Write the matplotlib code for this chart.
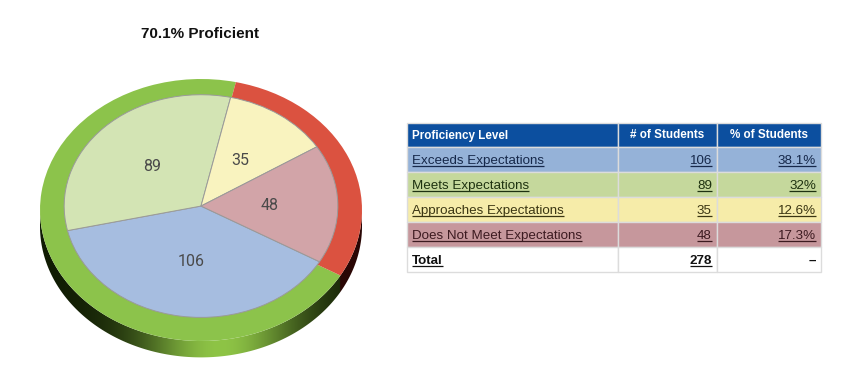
import numpy as np
import matplotlib
matplotlib.use("Agg")
import matplotlib.pyplot as plt
from matplotlib.patches import Rectangle, Polygon
from matplotlib.colors import to_rgb

# ---------------- data ----------------
title = "70.1% Proficient"
levels = ["Exceeds Expectations", "Meets Expectations",
          "Approaches Expectations", "Does Not Meet Expectations"]
counts = [106, 89, 35, 48]
pct_text = ["38.1%", "32%", "12.6%", "17.3%"]
total_label = "Total"
total_count = "278"
total_pct = "–"
headers = ["Proficiency Level", "# of Students", "% of Students"]
ring_values = [counts[0] + counts[1], counts[2] + counts[3]]  # proficient / not proficient

# ---------------- style ----------------
pie_colors = ["#A6BDE0", "#D3E4B4", "#F9F3BF", "#D2A4A8"]
ring_colors = ["#8CC34B", "#DB5240"]
row_colors = ["#95B2D8", "#C5D89C", "#F6ECA9", "#C6979C"]
row_text_colors = ["#16284A", "#1E3210", "#3A3512", "#3C1A20"]
header_color = "#0C4F9F"

plt.rcParams['font.family'] = ['Liberation Sans', 'DejaVu Sans']

W, H = 850, 378
fig = plt.figure(figsize=(W / 100, H / 100), dpi=100)
fig.patch.set_facecolor("white")

# ---------------- pie (drawn as ellipse) ----------------
cx, cy, rx, ry = 201, 210, 161, 131
depth = 0.125
ax = fig.add_axes([(cx - rx) / W, (H - (cy + ry * 1.2)) / H, 2 * rx / W, 2.2 * ry / H])

# side of the disc with a shaded gradient
t = np.linspace(np.pi, 2 * np.pi, 300)
top = np.column_stack([np.cos(t), np.sin(t)])
bot = np.column_stack([np.cos(t[::-1]), np.sin(t[::-1]) - depth])
side = Polygon(np.vstack([top, bot]), closed=True, facecolor="none", edgecolor="none")
ax.add_patch(side)
xs = np.linspace(-1, 1, 500)
dark = np.array(to_rgb("#0f1a03"))
bright = np.array(to_rgb("#8EC446"))
b = np.exp(-((xs - 0.12) / 0.5) ** 2)
img = dark[None, :] + (bright - dark)[None, :] * b[:, None]
red_side = xs > np.cos(np.deg2rad(-30))
img[red_side] = np.array(to_rgb("#2a0604"))
im = ax.imshow(img[None, :, :], extent=(-1, 1, -1 - depth - 0.02, 0.02),
               aspect='auto', zorder=0, interpolation='bilinear')
im.set_clip_path(side)

ax.pie(ring_values, colors=ring_colors, startangle=-30, counterclock=False,
       radius=1.0, wedgeprops=dict(linewidth=0))
total = sum(counts)
ax.pie(counts, colors=pie_colors, startangle=-30, counterclock=False,
       radius=0.85, center=(0, 0.03),
       wedgeprops=dict(edgecolor="#9a9a9a", linewidth=0.7),
       autopct=lambda p: f"{int(round(p * total / 100))}", pctdistance=0.5,
       textprops=dict(fontsize=11.5, color="#4a4a4a", family=['Roboto', 'DejaVu Sans']))
ax.set_aspect('auto')
ax.set_xlim(-1, 1)
ax.set_ylim(-1.2, 1)
ax.axis('off')

# ---------------- overlay for table & title ----------------
axT = fig.add_axes([0, 0, 1, 1])
axT.set_xlim(0, W)
axT.set_ylim(H, 0)
axT.axis('off')

axT.text(200, 38, title, ha='center', va='baseline', fontsize=11, fontweight='bold', color="#111111")

col_edges = [407, 618, 717, 821]
row_edges = [123, 147, 172, 197, 222, 247, 272]
fills = [header_color] + row_colors + ["white"]
for i, fc in enumerate(fills):
    y0, y1 = row_edges[i], row_edges[i + 1]
    for j in range(3):
        axT.add_patch(Rectangle((col_edges[j], y0), col_edges[j + 1] - col_edges[j], y1 - y0,
                                facecolor=fc, edgecolor="#dcdcdc", linewidth=1.0))

# header
hy = (row_edges[0] + row_edges[1]) / 2 + 3.5
hfs = 8.4
axT.text(col_edges[0] + 5, hy, headers[0], ha='left', va='baseline', fontsize=hfs,
         fontweight='bold', color='white')
axT.text((col_edges[1] + col_edges[2]) / 2, hy, headers[1], ha='center', va='baseline',
         fontsize=hfs, fontweight='bold', color='white')
axT.text((col_edges[2] + col_edges[3]) / 2, hy, headers[2], ha='center', va='baseline',
         fontsize=hfs, fontweight='bold', color='white')

underlined = []
for i in range(4):
    yb = (row_edges[i + 1] + row_edges[i + 2]) / 2 + 4.5
    c = row_text_colors[i]
    underlined.append(axT.text(col_edges[0] + 5, yb, levels[i], ha='left', va='baseline',
                               fontsize=9.6, color=c))
    underlined.append(axT.text(col_edges[2] - 5, yb, str(counts[i]), ha='right', va='baseline',
                               fontsize=9.6, color=c))
    underlined.append(axT.text(col_edges[3] - 5, yb, pct_text[i], ha='right', va='baseline',
                               fontsize=9.6, color=c))
yb = (row_edges[5] + row_edges[6]) / 2 + 4.5
underlined.append(axT.text(col_edges[0] + 5, yb, total_label, ha='left', va='baseline',
                           fontsize=9.6, fontweight='bold', color="#111111"))
underlined.append(axT.text(col_edges[2] - 5, yb, total_count, ha='right', va='baseline',
                           fontsize=9.6, fontweight='bold', color="#111111"))
axT.text(col_edges[3] - 5, yb, total_pct, ha='right', va='baseline',
         fontsize=9.6, fontweight='bold', color="#111111")

fig.canvas.draw()
r = fig.canvas.get_renderer()
for tx in underlined:
    bb = tx.get_window_extent(r)
    x0, x1 = bb.x0, bb.x1
    ybase = tx.get_position()[1]
    axT.plot([x0, x1], [ybase + 2, ybase + 2], color=tx.get_color(), lw=0.9,
             solid_capstyle='butt')

fig.savefig("out.png", dpi=100, facecolor="white")
